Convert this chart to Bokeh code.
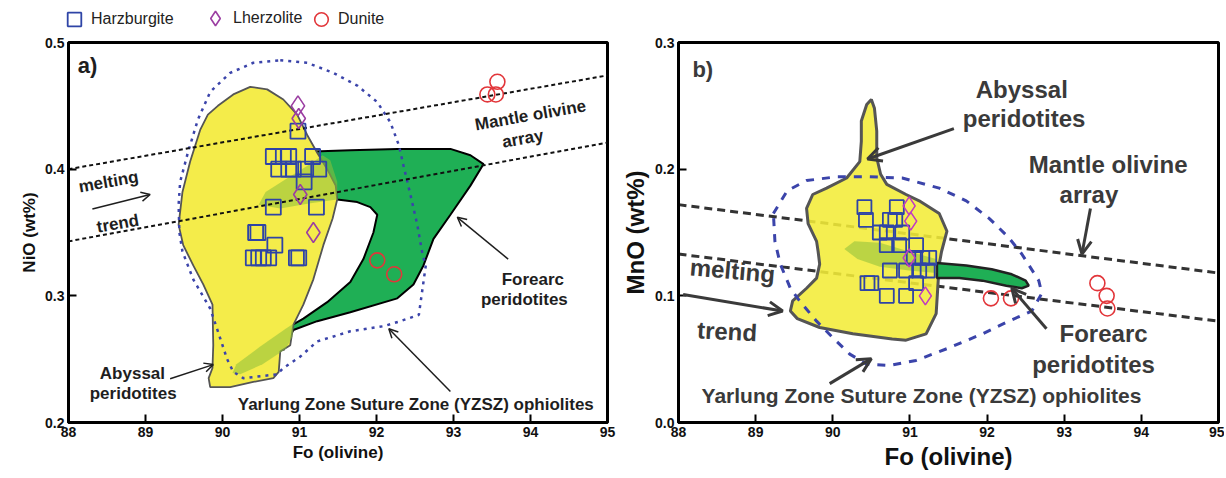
from bokeh.plotting import figure
from bokeh.models import (Range1d, FixedTicker, PrintfTickFormatter, Label, Arrow,
                          OpenHead, Legend, LegendItem)
from bokeh.layouts import row, column
from bokeh.embed import file_html
from bokeh.resources import INLINE

FONT = "Liberation Sans"

# ---------------- shared ticks ----------------
fo_ticks = [88, 89, 90, 91, 92, 93, 94, 95]
nio_ticks = [0.2, 0.3, 0.4, 0.5]
mno_ticks = [0.0, 0.1, 0.2, 0.3]

# ---------------- panel a (NiO) ----------------
a_harz_fo = [90.98, 90.66, 90.79, 90.86, 91.17, 90.73, 90.86, 90.92, 91.08, 91.25, 91.06,
             90.66, 91.22, 90.43, 90.46, 90.68, 90.40, 90.47, 90.53, 90.60, 90.96, 90.99]
a_harz_nio = [0.430, 0.41, 0.41, 0.41, 0.41, 0.400, 0.400, 0.400, 0.400, 0.400, 0.390,
              0.370, 0.370, 0.350, 0.350, 0.340, 0.330, 0.330, 0.330, 0.330, 0.330, 0.330]
a_lherz_fo = [90.98, 90.99, 91.01, 91.18]
a_lherz_nio = [0.45, 0.44, 0.38, 0.35]
a_dun_fo = [93.57, 93.44, 93.55, 92.01, 92.23]
a_dun_nio = [0.469, 0.459, 0.459, 0.328, 0.317]

a_aby_fo = [90.36, 90.58, 90.79, 90.97, 91.10, 91.23, 91.36, 91.47, 91.49, 91.43, 91.31, 91.18,
            91.05, 90.92, 90.88, 90.75, 90.73, 90.66, 90.40, 90.10, 89.84, 89.82, 89.87, 89.88,
            89.87, 89.75, 89.62, 89.49, 89.43, 89.48, 89.58, 89.71, 89.81, 89.94, 90.14]
a_aby_nio = [0.465, 0.463, 0.455, 0.443, 0.427, 0.413, 0.400, 0.387, 0.376, 0.361, 0.340, 0.313,
             0.293, 0.277, 0.261, 0.256, 0.240, 0.235, 0.232, 0.228, 0.228, 0.235, 0.243, 0.261,
             0.293, 0.309, 0.324, 0.340, 0.356, 0.382, 0.406, 0.431, 0.443, 0.450, 0.459]

a_fore_fo = [91.18, 91.66, 92.27, 92.96, 93.22, 93.39, 93.22, 92.96, 92.74, 92.61, 92.48, 92.27,
             91.66, 91.23, 90.92, 90.79, 90.88, 91.05, 91.36, 91.66, 91.83, 91.96, 92.01, 91.92,
             91.75, 91.49, 91.34, 91.15]
a_fore_nio = [0.414, 0.415, 0.416, 0.416, 0.411, 0.404, 0.387, 0.364, 0.345, 0.324, 0.309, 0.298,
              0.287, 0.280, 0.273, 0.257, 0.276, 0.282, 0.295, 0.311, 0.329, 0.350, 0.364, 0.370,
              0.374, 0.376, 0.382, 0.405]

a_ov1_fo = [90.47, 90.56, 90.82, 91.14, 91.30, 91.40, 91.49, 91.49, 91.14, 90.75]
a_ov1_nio = [0.372, 0.382, 0.392, 0.404, 0.411, 0.407, 0.390, 0.376, 0.373, 0.369]
a_ov2_fo = [90.13, 90.18, 90.49, 90.82, 90.92, 90.91, 90.82, 90.52, 90.23]
a_ov2_nio = [0.239, 0.246, 0.260, 0.274, 0.278, 0.268, 0.258, 0.246, 0.238]

a_yz_fo = [90.75, 91.10, 91.44, 91.75, 92.01, 92.18, 92.29, 92.35, 92.44, 92.53, 92.60, 92.64,
           92.61, 92.55, 92.31, 92.09, 91.66, 91.23, 91.01, 90.79, 90.71, 90.27, 90.14, 90.06,
           89.94, 89.84, 89.62, 89.48, 89.44, 89.43, 89.45, 89.55, 89.68, 89.84, 90.10, 90.40, 90.75]
a_yz_nio = [0.486, 0.484, 0.476, 0.466, 0.453, 0.437, 0.419, 0.403, 0.380, 0.356, 0.332, 0.324,
            0.311, 0.285, 0.280, 0.276, 0.272, 0.264, 0.252, 0.243, 0.238, 0.235, 0.240, 0.250,
            0.272, 0.290, 0.313, 0.335, 0.350, 0.372, 0.390, 0.413, 0.439, 0.461, 0.476, 0.484, 0.486]

array_fo = [88, 95]
a_upper_nio = [0.400, 0.474]
a_lower_nio = [0.343, 0.421]

# ---------------- panel b (MnO) ----------------
b_harz_fo = [90.41, 90.83, 90.43, 90.74, 90.81, 90.61, 90.70, 90.90, 90.70, 90.86, 91.08, 91.05,
             91.16, 91.25, 90.74, 90.95, 91.12, 91.23, 90.45, 90.50, 91.08, 90.70, 90.95]
b_harz_mno = [0.17, 0.17, 0.16, 0.16, 0.16, 0.15, 0.15, 0.15, 0.14, 0.14, 0.14, 0.13,
              0.13, 0.13, 0.12, 0.12, 0.12, 0.12, 0.11, 0.11, 0.11, 0.10, 0.10]
b_lherz_fo = [90.99, 91.01, 90.99, 91.20]
b_lherz_mno = [0.171, 0.159, 0.130, 0.100]
b_dun_fo = [92.05, 92.31, 93.43, 93.55, 93.56]
b_dun_mno = [0.098, 0.098, 0.110, 0.100, 0.090]

b_aby_fo = [90.50, 90.54, 90.57, 90.57, 90.62, 90.70, 90.95, 91.12, 91.38, 91.48, 91.41, 91.38,
            91.34, 91.21, 90.95, 90.77, 90.26, 89.83, 89.54, 89.45, 89.48, 89.66, 89.79, 89.83,
            89.81, 89.79, 89.68, 89.66, 89.74, 89.92, 90.18, 90.35, 90.37, 90.37, 90.44]
b_aby_mno = [0.255, 0.248, 0.230, 0.209, 0.196, 0.188, 0.180, 0.175, 0.165, 0.151, 0.135, 0.125,
             0.086, 0.070, 0.065, 0.066, 0.070, 0.075, 0.082, 0.088, 0.096, 0.106, 0.114, 0.125,
             0.135, 0.143, 0.157, 0.169, 0.180, 0.185, 0.193, 0.206, 0.222, 0.238, 0.251]

b_fore_fo = [91.35, 91.73, 92.06, 92.32, 92.50, 92.54, 92.45, 92.25, 91.94, 91.64, 91.35]
b_fore_mno = [0.126, 0.124, 0.121, 0.117, 0.112, 0.108, 0.106, 0.108, 0.112, 0.114, 0.114]

b_ov_fo = [90.15, 90.28, 90.61, 90.99, 91.34, 91.34, 90.99, 90.61, 90.32]
b_ov_mno = [0.137, 0.143, 0.142, 0.135, 0.129, 0.118, 0.120, 0.123, 0.129]

b_yz_fo = [89.23, 89.41, 89.66, 90.05, 90.48, 90.90, 91.38, 91.73, 92.03, 92.28, 92.45, 92.67,
           92.71, 92.58, 92.28, 91.94, 91.51, 91.08, 90.74, 90.44, 90.22, 90.00, 89.79, 89.57,
           89.45, 89.32, 89.25, 89.23]
b_yz_mno = [0.165, 0.183, 0.191, 0.194, 0.194, 0.193, 0.185, 0.175, 0.161, 0.146, 0.133, 0.112,
            0.102, 0.088, 0.080, 0.070, 0.059, 0.049, 0.045, 0.046, 0.054, 0.067, 0.080, 0.096,
            0.106, 0.125, 0.143, 0.165]

b_upper_mno = [0.172, 0.118]
b_lower_mno = [0.133, 0.080]

legend_names = ["Harzburgite", "Lherzolite", "Dunite"]

# ---------------- styling ----------------
YELLOW = "#f4ec4a"
YELLOW_B = "#f3ec38"
GREEN = "#1faf55"
TINT = "#8dbf3a"
BLUE_FIELD = "#3b44aa"
SQ = "#2e44a6"
DIA = "#9b3ea2"
CIR = "#e2363a"
TXT_A = "#1e1e1e"
TXT_B = "#3a3a3a"


def make_fig(width, left, right, yr, yticks, lab_size, xlabel, ylabel):
    p = figure(width=width, height=439, x_range=Range1d(88, 95), y_range=Range1d(*yr),
               output_backend="svg", toolbar_location=None,
               min_border_left=left, min_border_right=right,
               min_border_top=6, min_border_bottom=53)
    p.grid.visible = False
    p.outline_line_color = "black"
    p.outline_line_width = 3
    p.outline_line_alpha = 1
    p.xaxis.ticker = FixedTicker(ticks=fo_ticks)
    p.yaxis.ticker = FixedTicker(ticks=yticks)
    p.xaxis.formatter = PrintfTickFormatter(format="%d")
    p.yaxis.formatter = PrintfTickFormatter(format="%.1f")
    for ax in (p.xaxis[0], p.yaxis[0]):
        ax.axis_line_width = 3
        ax.axis_line_color = "black"
        ax.major_tick_in = 8
        ax.major_tick_out = 0
        ax.major_tick_line_width = 2
        ax.minor_tick_line_color = None
        ax.major_label_text_font = FONT
        ax.major_label_text_font_style = "bold"
        ax.major_label_text_font_size = "14px"
        ax.major_label_text_color = "#111"
        ax.major_label_standoff = 4
        ax.axis_label_text_font = FONT
        ax.axis_label_text_font_style = "bold"
        ax.axis_label_text_font_size = lab_size
        ax.axis_label_text_color = "#111"
        ax.axis_label_standoff = 3
    p.xaxis.axis_label = xlabel
    p.yaxis.axis_label = ylabel
    return p


def lab(p, x, y, text, size, color, angle=0, align="center"):
    p.add_layout(Label(x=x, y=y, text=text, text_font=FONT, text_font_style="bold",
                       text_font_size=size, text_color=color, text_align=align,
                       text_baseline="middle", angle=angle, angle_units="deg"))


def arrow(p, x0, y0, x1, y1, width, head, color):
    p.add_layout(Arrow(end=OpenHead(size=head, line_width=width, line_color=color),
                       x_start=x0, y_start=y0, x_end=x1, y_end=y1,
                       line_width=width, line_color=color))


# ================= legend strip =================
# the strip shows only the legend; its ranges keep the (real) data points out of view
pl = figure(width=618, height=36, x_range=Range1d(0, 1), y_range=Range1d(0, 1),
            output_backend="svg", toolbar_location=None, min_border=0,
            x_axis_location=None, y_axis_location=None)
pl.grid.visible = False
pl.outline_line_color = None
l_h = pl.scatter(a_harz_fo, a_harz_nio, marker="square", fill_color=None, line_color=SQ,
                 line_width=1.8)
l_l = pl.scatter(a_lherz_fo, a_lherz_nio, marker="diamond", fill_color=None, line_color=DIA,
                 line_width=1.6)
l_d = pl.scatter(a_dun_fo, a_dun_nio, marker="circle", fill_color=None, line_color=CIR,
                 line_width=1.6)
for name, rend, xloc, gsize in zip(legend_names, [l_h, l_l, l_d], [57, 197, 304], [34, 36, 34]):
    lg = Legend(items=[LegendItem(label=name, renderers=[rend])], location=(xloc, 0),
                border_line_color=None, background_fill_alpha=0, label_text_font=FONT,
                label_text_font_size="16px", label_text_color="#222", glyph_width=gsize,
                glyph_height=gsize, label_standoff=0, padding=0, margin=0, label_height=30)
    pl.add_layout(lg, "center")

# ================= panel a =================
pa = make_fig(618, 68, 11, (0.2, 0.5), nio_ticks, "17px", "Fo (olivine)", "NiO (wt%)")

pa.patch(a_fore_fo, a_fore_nio, fill_color=GREEN, line_color="black", line_width=2)
pa.patch(a_aby_fo, a_aby_nio, fill_color=YELLOW, line_color="#555555", line_width=1.8)
pa.patch(a_ov1_fo, a_ov1_nio, fill_color=TINT, fill_alpha=0.55, line_color=None)
pa.patch(a_ov2_fo, a_ov2_nio, fill_color=TINT, fill_alpha=0.55, line_color=None)
pa.line(a_yz_fo, a_yz_nio, line_color=BLUE_FIELD, line_width=2.5, line_dash="3 5")
pa.line(array_fo, a_upper_nio, line_color="#111", line_width=2, line_dash="4 3")
pa.line(array_fo, a_lower_nio, line_color="#111", line_width=2, line_dash="4 3")

pa.scatter(a_harz_fo, a_harz_nio, marker="square", size=15, fill_color=None,
           line_color=SQ, line_width=1.8)
pa.scatter(a_lherz_fo, a_lherz_nio, marker="diamond", size=20, fill_color=None,
           line_color=DIA, line_width=1.6)
pa.scatter(a_dun_fo, a_dun_nio, marker="circle", size=15, fill_color=None,
           line_color=CIR, line_width=1.6)

lab(pa, 88.12, 0.482, "a)", "22px", TXT_A, align="left")
lab(pa, 94.0, 0.4425, "Mantle olivine", "17px", TXT_A, angle=10)
lab(pa, 93.9, 0.424, "array", "17px", TXT_A, angle=10)
lab(pa, 88.52, 0.390, "melting", "17px", TXT_A, angle=10)
lab(pa, 88.64, 0.357, "trend", "17px", TXT_A, angle=10)
arrow(pa, 88.31, 0.3685, 89.06, 0.380, 1.5, 9, TXT_A)
lab(pa, 94.03, 0.3126, "Forearc", "17px", TXT_A)
lab(pa, 93.92, 0.297, "peridotites", "17px", TXT_A)
arrow(pa, 93.71, 0.329, 93.05, 0.362, 1.5, 9, TXT_A)
lab(pa, 88.83, 0.2386, "Abyssal", "17px", TXT_A)
lab(pa, 88.84, 0.223, "peridotites", "17px", TXT_A)
arrow(pa, 89.32, 0.2346, 89.88, 0.2457, 1.5, 9, TXT_A)
lab(pa, 92.51, 0.2142, "Yarlung Zone Suture Zone (YZSZ) ophiolites", "17px", TXT_A)
arrow(pa, 92.96, 0.2244, 92.16, 0.274, 1.5, 9, TXT_A)

# ================= panel b =================
pb = make_fig(606, 60, 6, (0.0, 0.3), mno_ticks, "24px", "Fo (olivine)", "MnO (wt%)")

pb.line(array_fo, b_upper_mno, line_color="#333", line_width=3, line_dash="8 5")
pb.line(array_fo, b_lower_mno, line_color="#333", line_width=3, line_dash="8 5")
pb.patch(b_aby_fo, b_aby_mno, fill_color=YELLOW_B, fill_alpha=0.88, line_color="#555555",
         line_width=3)
pb.patch(b_fore_fo, b_fore_mno, fill_color=GREEN, line_color="#222", line_width=2.5)
pb.patch(b_ov_fo, b_ov_mno, fill_color=TINT, fill_alpha=0.55, line_color=None)
pb.line(b_yz_fo, b_yz_mno, line_color=BLUE_FIELD, line_width=3, line_dash="8 8")

pb.scatter(b_harz_fo, b_harz_mno, marker="square", size=14, fill_color=None,
           line_color=SQ, line_width=1.8)
pb.scatter(b_lherz_fo, b_lherz_mno, marker="diamond", size=18, fill_color=None,
           line_color="#c03cc0", line_width=1.6)
pb.scatter(b_dun_fo, b_dun_mno, marker="circle", size=15, fill_color=None,
           line_color=CIR, line_width=1.6)

lab(pb, 88.18, 0.279, "b)", "22px", TXT_B, align="left")
lab(pb, 92.45, 0.263, "Abyssal", "24px", TXT_B)
lab(pb, 92.48, 0.240, "peridotites", "24px", TXT_B)
arrow(pb, 91.57, 0.232, 90.45, 0.208, 3, 14, TXT_B)
lab(pb, 93.57, 0.204, "Mantle olivine", "24px", TXT_B)
lab(pb, 93.32, 0.180, "array", "24px", TXT_B)
arrow(pb, 93.34, 0.169, 93.23, 0.133, 3, 14, TXT_B)
lab(pb, 88.70, 0.120, "melting", "24px", TXT_B, angle=-5)
lab(pb, 88.63, 0.072, "trend", "24px", TXT_B, angle=-3)
arrow(pb, 88.06, 0.101, 89.35, 0.088, 3, 14, TXT_B)
lab(pb, 93.51, 0.070, "Forearc", "24px", TXT_B)
lab(pb, 93.38, 0.046, "peridotites", "24px", TXT_B)
arrow(pb, 92.77, 0.074, 92.32, 0.106, 3, 14, TXT_B)
lab(pb, 91.15, 0.0213, "Yarlung Zone Suture Zone (YZSZ) ophiolites", "21px", TXT_B)
arrow(pb, 89.96, 0.0307, 90.50, 0.0504, 3, 14, TXT_B)

layout = column(pl, row(pa, pb))
open("out.html", "w").write(file_html(layout, INLINE))
